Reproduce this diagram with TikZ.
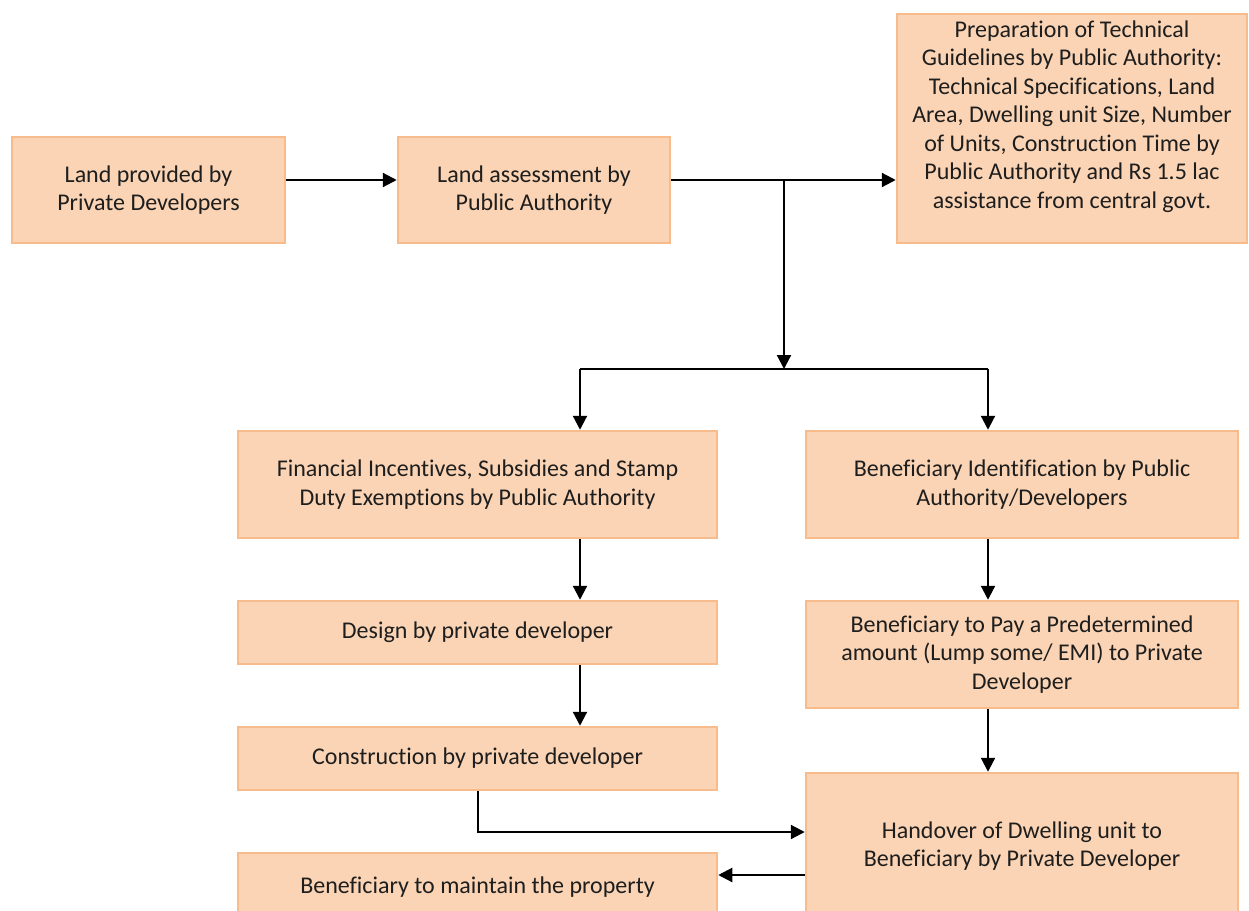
\documentclass[tikz,border=0pt]{standalone}
\usepackage{fontspec}
\setmainfont{Carlito}[Ligatures={NoCommon}]
\usetikzlibrary{arrows.meta}
\definecolor{boxfill}{HTML}{FAD4B4}
\definecolor{boxline}{HTML}{F8BC8C}
\definecolor{txt}{HTML}{1E1E1E}
\begin{document}
\begin{tikzpicture}[x=1pt,y=-1pt,
  stepbox/.style={draw=boxline, line width=2.5pt, fill=boxfill, align=center, inner sep=0pt,
    font=\fontsize{24}{28.5}\selectfont, text=txt},
  conn/.style={line width=2.2pt, -{Triangle[length=14pt,width=14pt]}},
  plain/.style={line width=2.2pt}]
\useasboundingbox (0,0) rectangle (1249,910);
\clip (0,0) rectangle (1249,910);
\fill[white] (0,0) rectangle (1249,910);

\node[stepbox, minimum width=273pt, minimum height=106pt] (a) at (148.5,190)
  {Land provided by\\Private Developers};
\node[stepbox, minimum width=272pt, minimum height=106pt] (b) at (534,190)
  {Land assessment by\\Public Authority};
\node[stepbox, minimum width=350pt, minimum height=229pt] (c) at (1072,128.5)
  {Preparation of Technical\\Guidelines by Public Authority:\\Technical Specifications, Land\\Area, Dwelling unit Size, Number\\of Units, Construction Time by\\Public Authority and Rs 1.5 lac\\assistance from central govt.\\~};
\node[stepbox, minimum width=479pt, minimum height=107pt] (d) at (477.5,484.5)
  {Financial Incentives, Subsidies and Stamp\\Duty Exemptions by Public Authority};
\node[stepbox, minimum width=432pt, minimum height=107pt] (e) at (1022,484.5)
  {Beneficiary Identification by Public\\Authority/Developers};
\node[stepbox, minimum width=479pt, minimum height=63pt] (f) at (477.5,632.5)
  {Design by private developer};
\node[stepbox, minimum width=479pt, minimum height=63pt] (g) at (477.5,758.5)
  {Construction by private developer};
\node[stepbox, minimum width=432pt, minimum height=107pt] (h) at (1022,654.5)
  {Beneficiary to Pay a Predetermined\\amount (Lump some/ EMI) to Private\\Developer};
\node[stepbox, minimum width=432pt, minimum height=146pt] (i) at (1022,846)
  {Handover of Dwelling unit to\\Beneficiary by Private Developer};
\node[stepbox, minimum width=479pt, minimum height=68pt] (j) at (477.5,887)
  {Beneficiary to maintain the property};

\coordinate (r1) at (0,180);
\coordinate (j1) at (784,180);
\coordinate (j2) at (784,369);
\coordinate (jl) at (580,369);
\coordinate (jr) at (988,369);
\coordinate (k) at (478,832);
\coordinate (m) at (0,875);

\draw[conn] (a.east |- r1) -- (b.west |- r1);
\draw[conn] (b.east |- r1) -- (c.west |- r1);
\draw[conn] (j1) -- (j2);
\draw[plain] (jl) -- (jr);
\draw[conn] (jl) -- (d.north -| jl);
\draw[conn] (jr) -- (e.north -| jr);
\draw[conn] (d.south -| jl) -- (f.north -| jl);
\draw[conn] (f.south -| jl) -- (g.north -| jl);
\draw[conn] (e.south -| jr) -- (h.north -| jr);
\draw[conn] (h.south -| jr) -- (i.north -| jr);
\draw[conn] (g.south -| k) -- (k) -- (i.west |- k);
\draw[conn] (i.west |- m) -- (j.east |- m);
\end{tikzpicture}
\end{document}
